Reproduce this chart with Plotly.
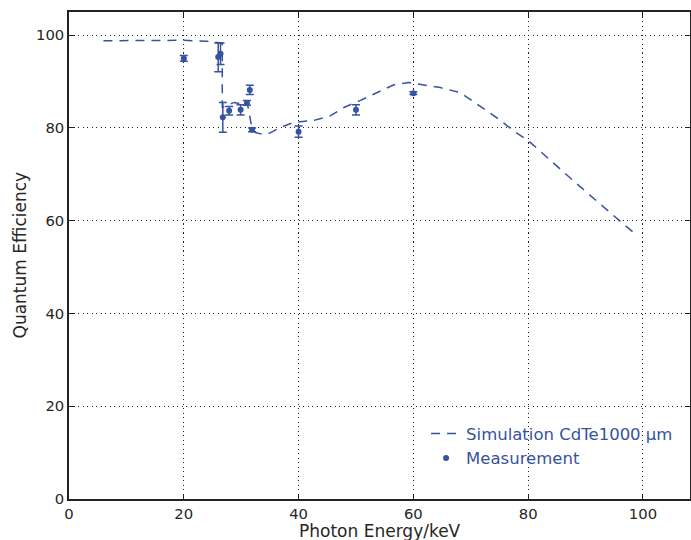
import plotly.graph_objects as go

# Simulation CdTe 1000 um
sim_energy = [6, 10, 15, 20, 24, 26.0, 26.7, 26.71, 27.5, 28.7, 30, 31.0, 31.3, 31.9, 32.5, 33.8, 35, 36.8,
              39.1, 42.6, 45.5, 47.9, 50.7, 53.6, 56.6, 59.2, 61.2, 64.7, 68.2, 69.9, 72.8, 75.2, 77.8,
              80.0, 82.7, 85.0, 86.8, 89.1, 91.4, 93.8, 96.1, 98.7]
sim_qe = [98.8, 98.8, 98.9, 98.9, 98.7, 98.4, 98.3, 84.5, 84.8, 85.5, 85.2, 85.8, 83.7, 79.8, 79.0, 78.6, 78.9, 80.1,
          81.2, 81.6, 82.6, 84.4, 85.9, 87.6, 89.3, 89.8, 89.4, 88.7, 87.6, 86.2, 83.7, 81.6, 79.1,
          77.3, 74.4, 71.9, 69.8, 67.3, 64.8, 62.3, 59.8, 57.1]

# Measurements
meas_energy = [20, 26.0, 26.4, 26.8, 27.9, 29.9, 31.0, 31.5, 31.9, 40, 50, 60]
meas_qe = [95.0, 95.3, 96.0, 82.3, 83.7, 83.9, 85.4, 88.2, 79.6, 79.2, 83.9, 87.5]
meas_err_plus = [0.6, 3.0, 2.3, 3.2, 0.9, 1.1, 0.5, 1.0, 0.4, 1.2, 1.1, 0.3]
meas_err_minus = [0.6, 3.2, 2.3, 3.2, 0.9, 1.1, 0.5, 1.0, 0.4, 1.2, 1.1, 0.3]

x_ticks = [0, 20, 40, 60, 80, 100]
y_ticks = [0, 20, 40, 60, 80, 100]

blue = "#3652a3"
font = "DejaVu Sans"
dark = "#262626"

fig = go.Figure()
fig.add_trace(go.Scatter(
    x=sim_energy, y=sim_qe, mode="lines", name="Simulation CdTe1000 μm",
    line=dict(color=blue, width=1.5, dash="9px,7px"),
))
fig.add_trace(go.Scatter(
    x=meas_energy, y=meas_qe, mode="markers", name="Measurement",
    marker=dict(color=blue, size=6),
    error_y=dict(type="data", array=meas_err_plus, arrayminus=meas_err_minus,
                 color=blue, thickness=1.5, width=4),
))

axis_common = dict(
    showline=True, linecolor="#222222", linewidth=1.5, mirror="ticks",
    ticks="inside", ticklen=5, tickcolor="#222222", tickwidth=1,
    showgrid=True, gridcolor="#222222", griddash="1.2px,3.3px", gridwidth=1,
    zeroline=False, automargin=False,
    tickfont=dict(family=font, size=14.8, color=dark),
)

fig.update_layout(
    width=691, height=540,
    margin=dict(l=69, r=1, t=12, b=41),
    paper_bgcolor="white", plot_bgcolor="white",
    font=dict(family=font, color=dark),
    xaxis=dict(range=[0, 108.2], tickvals=x_ticks, **axis_common),
    yaxis=dict(range=[0, 105], tickvals=y_ticks, **axis_common),
    legend=dict(x=0.575, y=0.17, xanchor="left", yanchor="top",
                bgcolor="rgba(0,0,0,0)", borderwidth=0,
                font=dict(family=font, size=16.5, color=blue),
                itemwidth=30, tracegroupgap=0),
    showlegend=True,
    annotations=[
        dict(text="Photon Energy/keV", xref="paper", yref="paper", x=0.5, y=-20 / 487,
             xanchor="center", yanchor="top", showarrow=False,
             font=dict(family=font, size=17, color=dark)),
        dict(text="Quantum Efficiency", xref="paper", yref="paper", x=-50 / 621, y=0.5,
             xanchor="center", yanchor="middle", showarrow=False, textangle=-90,
             font=dict(family=font, size=17, color=dark)),
    ],
)

fig.write_html(
    "out.html",
    config={"displayModeBar": False},
    post_script="document.body.style.margin='0';document.documentElement.style.overflow='hidden';",
)
